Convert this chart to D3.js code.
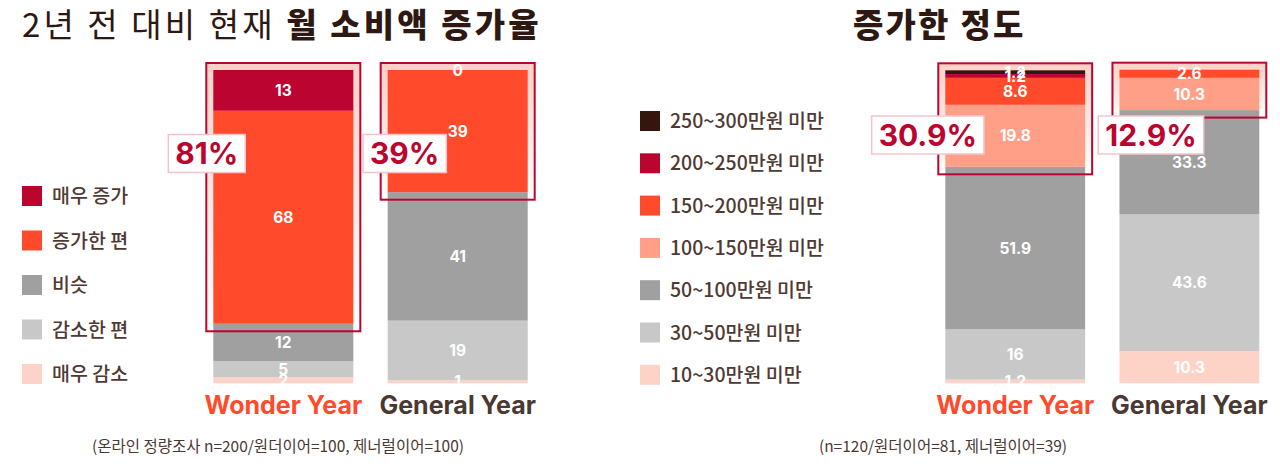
<!DOCTYPE html>
<html>
<head>
<meta charset="utf-8">
<script src="https://cdn.jsdelivr.net/npm/d3@7"></script>
<style>
  html, body { margin: 0; padding: 0; background: #fff; }
  svg { display: block; }
  .kr { font-family: "Noto Sans CJK KR", "Noto Sans", sans-serif; }
  .num { font-family: "Inter", "Lato", "Noto Sans", sans-serif; font-weight: 700; }
</style>
</head>
<body>
<svg id="chart" width="1280" height="464"></svg>
<script>
// ---------------- DATA ----------------
const groups = ["Wonder Year", "General Year"];

// Left chart: change in monthly spending (bottom -> top)
const leftCategories = ["매우 감소", "감소한 편", "비슷", "증가한 편", "매우 증가"];
const leftWonder  = [2, 5, 12, 68, 13];
const leftGeneral = [1, 19, 41, 39, 0];
const leftIncreaseKeys = ["증가한 편", "매우 증가"];
const leftPctLabels = ["81%", "39%"];

// Right chart: amount of increase (bottom -> top)
const rightCategories = ["10~30만원 미만", "30~50만원 미만", "50~100만원 미만", "100~150만원 미만",
                         "150~200만원 미만", "200~250만원 미만", "250~300만원 미만"];
const rightWonder  = [1.2, 16, 51.9, 19.8, 8.6, 1.2, 1.2];
const rightGeneral = [10.3, 43.6, 33.3, 10.3, 2.6, 0, 0];
const rightIncreaseKeys = ["100~150만원 미만", "150~200만원 미만", "200~250만원 미만", "250~300만원 미만"];
const rightPctLabels = ["30.9%", "12.9%"];

// ---------------- STYLE ----------------
const leftColors  = ["#fdd3c7", "#c8c8c8", "#a0a0a0", "#ff4b2b", "#bb0530"];
const rightColors = ["#fdd3c7", "#c8c8c8", "#a0a0a0", "#ff9f88", "#ff4b2b", "#bb0530", "#35160f"];
const groupColors = ["#ff4b2b", "#4a3833"];
const darkRed = "#bb0530";

const svg = d3.select("#chart");

// gradient for highlight band
const defs = svg.append("defs");
const grad = defs.append("linearGradient").attr("id", "hlGrad")
  .attr("x1", 0).attr("y1", 0).attr("x2", 0).attr("y2", 1);
grad.append("stop").attr("offset", "0%").attr("stop-color", "#fdd0c6");
grad.append("stop").attr("offset", "45%").attr("stop-color", "#fde4de");
grad.append("stop").attr("offset", "100%").attr("stop-color", "#ffffff");

// ---------------- TITLES ----------------
const t1 = svg.append("text").attr("class", "kr")
  .attr("x", 22).attr("y", 37).attr("font-size", 33).attr("fill", "#2d1812")
  .attr("letter-spacing", 3.1);
t1.append("tspan").attr("font-weight", 400).text("2년 전 대비 현재 ");
t1.append("tspan").attr("font-weight", 900).text("월 소비액 증가율");

svg.append("text").attr("class", "kr")
  .attr("x", 853).attr("y", 37)
  .attr("font-size", 33).attr("font-weight", 900).attr("fill", "#2d1812")
  .attr("letter-spacing", 2.2)
  .text("증가한 정도");

// ---------------- CHART BUILDER ----------------
function drawChart(cfg) {
  const rows = groups.map((g, i) => {
    const r = { group: g };
    cfg.categories.forEach((c, j) => r[c] = cfg.series[i][j]);
    return r;
  });
  const x = d3.scaleBand().domain(groups).range(cfg.xRange).paddingInner(0.197).paddingOuter(0);
  const y = d3.scaleLinear().domain([0, 100]).range([383.3, 70]);
  const color = d3.scaleOrdinal().domain(cfg.categories).range(cfg.colors);
  const stack = d3.stack().keys(cfg.categories)(rows);

  const g = svg.append("g");

  const nCat = cfg.categories.length;
  const firstInc = cfg.categories.indexOf(cfg.increaseKeys[0]);
  const incTop = groups.map((gr, i) => stack[nCat - 1][i][1]);
  const incBottom = groups.map((gr, i) => stack[firstInc][i][0]);
  const pad = 7;

  // highlight band (behind bars)
  g.selectAll("rect.hl").data(groups).join("rect").attr("class", "hl")
    .attr("x", d => x(d) - pad).attr("width", x.bandwidth() + 2 * pad)
    .attr("y", (d, i) => y(incTop[i]) - pad)
    .attr("height", (d, i) => y(incBottom[i]) - y(incTop[i]) + 2 * pad + 0.5)
    .attr("fill", "url(#hlGrad)");

  // bars
  const layer = g.selectAll("g.layer").data(stack).join("g").attr("class", "layer")
    .attr("fill", d => color(d.key));
  layer.selectAll("rect").data(d => d.map((v, i) => ({ v, i }))).join("rect")
    .attr("x", d => x(groups[d.i])).attr("width", x.bandwidth())
    .attr("y", d => y(d.v[1])).attr("height", d => y(d.v[0]) - y(d.v[1]));

  // highlight outline
  g.selectAll("rect.hlo").data(groups).join("rect").attr("class", "hlo")
    .attr("x", d => x(d) - pad).attr("width", x.bandwidth() + 2 * pad)
    .attr("y", (d, i) => y(incTop[i]) - pad)
    .attr("height", (d, i) => y(incBottom[i]) - y(incTop[i]) + 2 * pad + 0.5)
    .attr("fill", "none").attr("stroke", darkRed).attr("stroke-width", 2);

  // value labels
  stack.forEach(s => {
    s.forEach((v, i) => {
      const val = v[1] - v[0];
      if (!cfg.showZero && val === 0) return;
      g.append("text").attr("class", "num")
        .attr("x", x(groups[i]) + x.bandwidth() / 2)
        .attr("y", y((v[0] + v[1]) / 2))
        .attr("dy", "0.36em").attr("text-anchor", "middle")
        .attr("font-size", 15.5).attr("font-weight", 800).attr("fill", "#fff")
        .text(Math.round(val * 10) / 10);
    });
  });

  // percent callouts
  cfg.pctLabels.forEach((lab, i) => {
    const cx = x(groups[i]) + cfg.pctOffsets[i];
    const t = g.append("text").attr("class", "num")
      .attr("x", cx).attr("y", cfg.pctY).attr("dy", "0.36em")
      .attr("text-anchor", "middle").attr("font-size", 30).attr("font-weight", 800)
      .attr("fill", darkRed).text(lab);
    const bb = t.node().getBBox();
    g.insert("rect", function() { return t.node(); })
      .attr("x", cx - bb.width / 2 - 7).attr("width", bb.width + 14)
      .attr("y", cfg.pctY - 19).attr("height", 38)
      .attr("fill", "#fff").attr("stroke", "#f3c3cd").attr("stroke-width", 1.5);
  });

  // group labels
  g.selectAll("text.grp").data(groups).join("text").attr("class", "grp num")
    .attr("x", d => x(d) + x.bandwidth() / 2).attr("y", 413.5)
    .attr("text-anchor", "middle").attr("font-size", 25).attr("font-weight", 800)
    .attr("letter-spacing", 0)
    .attr("fill", (d, i) => groupColors[i]).text(d => d);

  // legend (top -> bottom)
  const legendItems = cfg.categories.slice().reverse();
  const lg = g.selectAll("g.lg").data(legendItems).join("g").attr("class", "lg")
    .attr("transform", (d, i) => `translate(${cfg.legendX},${cfg.legendY0 + i * cfg.legendStep})`);
  lg.append("rect").attr("x", 0).attr("y", -10).attr("width", 20).attr("height", 20)
    .attr("fill", d => color(d));
  lg.append("text").attr("class", "kr").attr("x", 30).attr("dy", "0.36em")
    .attr("font-size", 19.5).attr("font-weight", 500).attr("fill", "#4f3a33").text(d => d);

  // footnote
  svg.append("text").attr("class", "kr")
    .attr("x", cfg.noteX).attr("y", 452).attr("text-anchor", "middle")
    .attr("font-size", 15.5).attr("fill", "#4a3833")
    .text(cfg.note);
}

drawChart({
  categories: leftCategories, series: [leftWonder, leftGeneral], colors: leftColors,
  increaseKeys: leftIncreaseKeys, pctLabels: leftPctLabels,
  xRange: [213.3, 527.7], showZero: true,
  pctOffsets: [-6.5, 17], pctY: 153.5,
  legendX: 22, legendY0: 196, legendStep: 44.5,
  noteX: 278, note: "(온라인 정량조사 n=200/원더이어=100, 제너럴이어=100)"
});

drawChart({
  categories: rightCategories, series: [rightWonder, rightGeneral], colors: rightColors,
  increaseKeys: rightIncreaseKeys, pctLabels: rightPctLabels,
  xRange: [945.3, 1259.3], showZero: false,
  pctOffsets: [-17.5, 31.5], pctY: 135,
  legendX: 640, legendY0: 121, legendStep: 42.3,
  noteX: 943, note: "(n=120/원더이어=81, 제너럴이어=39)"
});
</script>
</body>
</html>
